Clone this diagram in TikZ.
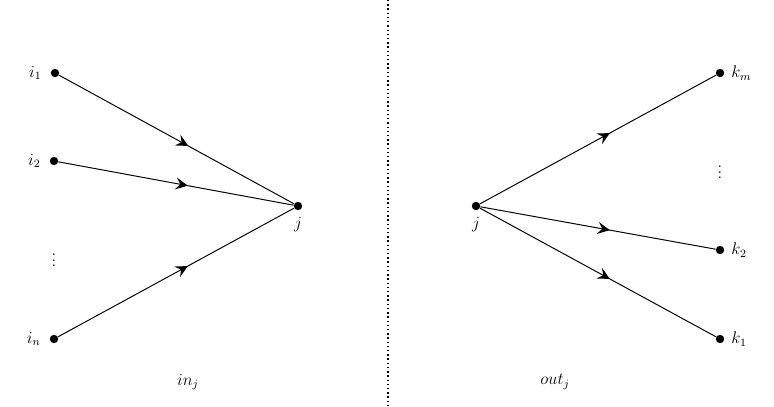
\documentclass[tikz,border=0pt]{standalone}
\usetikzlibrary{arrows,positioning,decorations.markings}
\begin{document}
\begin{tikzpicture}[auto,font=\large,
  dot/.style={circle,fill=black,inner sep=0pt,minimum size=6pt},
  edge/.style={line width=0.7pt,postaction={decorate},
    decoration={markings,mark=at position 0.55 with {\arrow[scale=2.2]{stealth}}}}]
	\useasboundingbox (0,0) rectangle (19.35,10.15);
	% left half
	\node[dot] (i1) at (1.375,8.325) {};
	\node[dot] (i2) at (1.35,6.125) {};
	\node[dot] (in) at (1.35,1.675) {};
	\node[dot] (jl) at (7.45,5.0) {};
	\node[left=0.1cm of i1] {$i_1$};
	\node[left=0.1cm of i2] {$i_2$};
	\node[left=0.1cm of in] {$i_n$};
	\node[below=0.05cm of jl] {$j$};
	\node (vl) at (1.35,3.75) {$\vdots$};
	\draw[edge] (i1) -- (jl);
	\draw[edge] (i2) -- (jl);
	\draw[edge] (in) -- (jl);
	\node (inj) at (4.7,0.6) {$in_j$};
	% right half
	\node[dot] (jr) at (11.9,5.0) {};
	\node[dot] (km) at (18,8.325) {};
	\node[dot] (k2) at (18,3.9) {};
	\node[dot] (k1) at (18,1.675) {};
	\node[below=0.05cm of jr] {$j$};
	\node[right=0.05cm of km] {$k_m$};
	\node[right=0.05cm of k2] {$k_2$};
	\node[right=0.05cm of k1] {$k_1$};
	\node (vr) at (18,5.95) {$\vdots$};
	\draw[edge] (jr) -- (km);
	\draw[edge] (jr) -- (k2);
	\draw[edge] (jr) -- (k1);
	\node (outj) at (13.875,0.6) {$out_j$};
	% separator
	\coordinate (sept) at (9.7,10.15);
	\coordinate (sepb) at (9.7,0);
	\draw[line width=0.8pt,dash pattern=on 1pt off 2pt] (sept) -- (sepb);
\end{tikzpicture}
\end{document}
